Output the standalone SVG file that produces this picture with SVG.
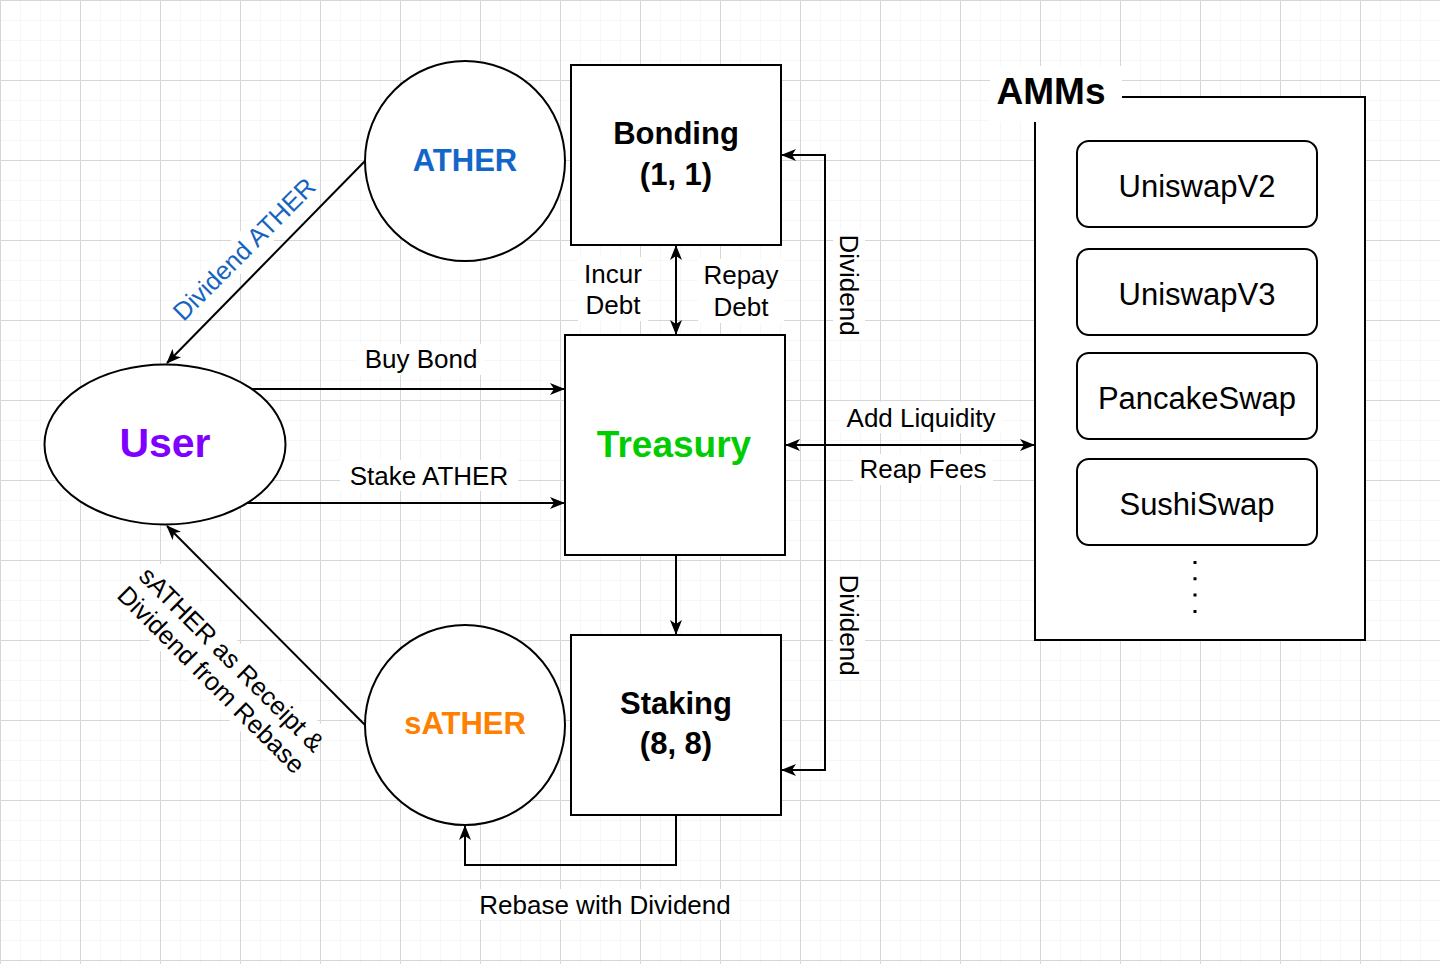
<svg xmlns="http://www.w3.org/2000/svg" width="1440" height="964" viewBox="0 0 1440 964">
<defs>
<pattern id="minor" width="20" height="20" patternUnits="userSpaceOnUse"><path d="M20 0H0V20" fill="none" stroke="#efefef" stroke-width="1"/></pattern>
<pattern id="major" width="80" height="80" patternUnits="userSpaceOnUse"><rect width="80" height="80" fill="url(#minor)"/><path d="M80 0.5H0.5V80" fill="none" stroke="#d6d6d6" stroke-width="1"/></pattern>
<marker id="arr" viewBox="0 0 15 12" refX="14" refY="6" markerWidth="15" markerHeight="12" markerUnits="userSpaceOnUse" orient="auto-start-reverse"><path d="M0,0 L15,6 L0,12 L4,6 z" fill="#000"/></marker>
<style>
.shape{fill:#fff;stroke:#000;stroke-width:2}
.edge{fill:none;stroke:#000;stroke-width:2}
.lbl{font-family:"Liberation Sans",Arial,sans-serif;font-size:26px;fill:#000;text-anchor:middle}
.title{font-family:"Liberation Sans",Arial,sans-serif;font-weight:bold;text-anchor:middle}
.item{font-family:"Liberation Sans",Arial,sans-serif;font-size:31px;fill:#000;text-anchor:middle}
.bg{fill:#fff}
</style>
</defs>
<rect width="1440" height="964" fill="#fff"/>
<rect width="1440" height="964" fill="url(#major)"/>

<g id="connectors">
<path class="edge" d="M365,161 L167,363" marker-end="url(#arr)"/>
<path class="edge" d="M365,725 L167,526" marker-end="url(#arr)"/>
<path class="edge" d="M252,389 L564,389" marker-end="url(#arr)"/>
<path class="edge" d="M247,503 L564,503" marker-end="url(#arr)"/>
<path class="edge" d="M676,246 L676,334" marker-start="url(#arr)" marker-end="url(#arr)"/>
<path class="edge" d="M676,555 L676,634" marker-end="url(#arr)"/>
<path class="edge" d="M676,815 V865 H465 V826" marker-end="url(#arr)"/>
<path class="edge" d="M786,445 L1034,445" marker-start="url(#arr)" marker-end="url(#arr)"/>
<path class="edge" d="M825,445 V155 H782" marker-end="url(#arr)"/>
<path class="edge" d="M825,445 V770 H782" marker-end="url(#arr)"/>
</g>

<g id="edge-labels">
<g transform="translate(244,249) rotate(-45)">
<rect class="bg" x="-84" y="-15" width="168" height="30"/>
<text class="lbl" x="0" y="9" style="fill:#1565c0;font-size:25.5px">Dividend ATHER</text>
</g>
<g transform="translate(222,669) rotate(45)">
<rect class="bg" x="-118" y="-31" width="236" height="62"/>
<text class="lbl" x="0" y="-5" style="font-size:25.5px">sATHER as Receipt &amp;</text>
<text class="lbl" x="0" y="24" style="font-size:25.5px">Dividend from Rebase</text>
</g>
<rect class="bg" x="358" y="344" width="126" height="31"/>
<text class="lbl" x="421" y="368">Buy Bond</text>
<rect class="bg" x="340" y="460" width="178" height="31"/>
<text class="lbl" x="429" y="485">Stake ATHER</text>
<rect class="bg" x="578" y="257" width="70" height="64"/>
<text class="lbl" x="613" y="283">Incur</text>
<text class="lbl" x="613" y="314">Debt</text>
<rect class="bg" x="698" y="259" width="86" height="64"/>
<text class="lbl" x="741" y="284">Repay</text>
<text class="lbl" x="741" y="316">Debt</text>
<rect class="bg" x="840" y="402" width="162" height="31"/>
<text class="lbl" x="921" y="427">Add Liquidity</text>
<rect class="bg" x="853" y="454" width="140" height="31"/>
<text class="lbl" x="923" y="478">Reap Fees</text>
<g transform="translate(849,285) rotate(90)">
<rect class="bg" x="-55" y="-16" width="110" height="32"/>
<text class="lbl" x="0" y="9">Dividend</text>
</g>
<g transform="translate(849,625) rotate(90)">
<rect class="bg" x="-55" y="-16" width="110" height="32"/>
<text class="lbl" x="0" y="9">Dividend</text>
</g>
<rect class="bg" x="472" y="889" width="266" height="31"/>
<text class="lbl" x="605" y="914">Rebase with Dividend</text>
</g>

<g id="ather">
<circle class="shape" cx="465" cy="161" r="100"/>
<text class="title" x="465" y="171" style="font-size:31px;fill:#1366c9">ATHER</text>
</g>
<g id="bonding">
<rect class="shape" x="571" y="65" width="210" height="180"/>
<text class="title" x="676" y="144" style="font-size:31px">Bonding</text>
<text class="title" x="676" y="185" style="font-size:31px">(1, 1)</text>
</g>
<g id="user">
<ellipse class="shape" cx="165" cy="444.5" rx="120.5" ry="80"/>
<text class="title" x="165" y="457" style="font-size:41px;fill:#7f00ff">User</text>
</g>
<g id="treasury">
<rect class="shape" x="565" y="335" width="220" height="220"/>
<text class="title" x="674" y="457" style="font-size:37px;fill:#00cc00">Treasury</text>
</g>
<g id="sather">
<circle class="shape" cx="465" cy="725" r="100"/>
<text class="title" x="465" y="734" style="font-size:31px;fill:#ff8000">sATHER</text>
</g>
<g id="staking">
<rect class="shape" x="571" y="635" width="210" height="180"/>
<text class="title" x="676" y="714" style="font-size:31px">Staking</text>
<text class="title" x="676" y="754" style="font-size:31px">(8, 8)</text>
</g>

<g id="amms">
<rect class="shape" x="1035" y="97" width="330" height="543"/>
<rect class="bg" x="990" y="66" width="132" height="56"/>
<text class="title" x="1051" y="104" style="font-size:37px">AMMs</text>
<line x1="1195" y1="561" x2="1195" y2="615" stroke="#000" stroke-width="3" stroke-dasharray="3,13.3"/>
</g>
<g id="uniswapv2">
<rect class="shape" x="1077" y="141" width="240" height="86" rx="12"/>
<text class="item" x="1197" y="197">UniswapV2</text>
</g>
<g id="uniswapv3">
<rect class="shape" x="1077" y="249" width="240" height="86" rx="12"/>
<text class="item" x="1197" y="305">UniswapV3</text>
</g>
<g id="pancakeswap">
<rect class="shape" x="1077" y="353" width="240" height="86" rx="12"/>
<text class="item" x="1197" y="409">PancakeSwap</text>
</g>
<g id="sushiswap">
<rect class="shape" x="1077" y="459" width="240" height="86" rx="12"/>
<text class="item" x="1197" y="515">SushiSwap</text>
</g>
</svg>
